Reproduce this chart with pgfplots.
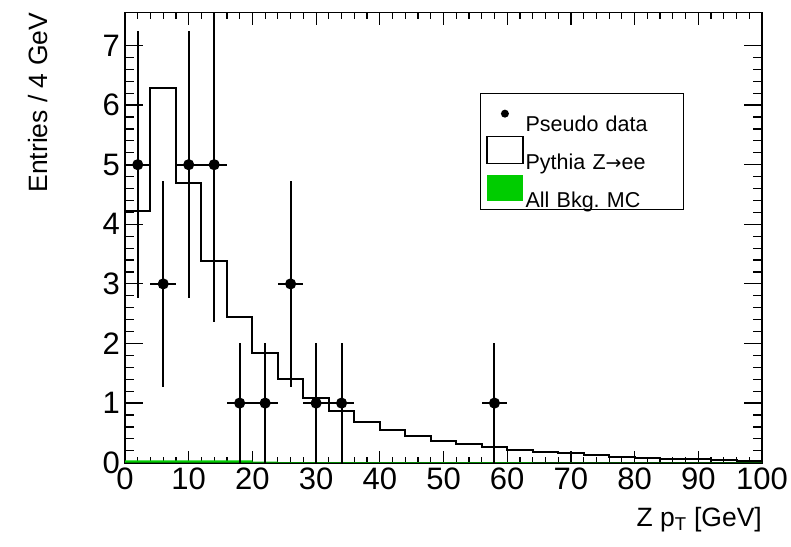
\documentclass[border=0pt]{standalone}
\usepackage{pgfplots}
\pgfplotsset{compat=1.18}
\usepackage{fontspec}
\setmainfont{Liberation Sans}
\newfontfamily\dejavu{DejaVu Sans}
\definecolor{rootgreen}{RGB}{0,204,0}
\pgfplotstableread{
x y ex ey
2 5 2 2.236
6 3 2 1.732
10 5 2 2.236
14 5 2 2.646
18 1 2 1
22 1 2 1
26 3 2 1.732
30 1 2 1
34 1 2 1
58 1 2 1
}\datatable
\begin{document}
\begin{tikzpicture}
\path[use as bounding box] (0,0) rectangle (791pt,546pt);
\begin{axis}[
  at={(125pt,83.3pt)}, anchor=south west,
  scale only axis, width=637pt, height=450pt,
  xmin=0, xmax=100, ymin=0, ymax=7.55,
  xtick={0,10,...,100}, minor x tick num=4,
  ytick={0,1,...,7}, minor y tick num=4,
  xtick pos=both, ytick pos=both,
  tick align=inside,
  major tick length=12pt, minor tick length=6pt,
  major y tick style={/pgfplots/major tick length=18pt},
  minor y tick style={/pgfplots/minor tick length=9pt},
  axis line style={line width=1.6pt},
  tick style={line width=1.2pt, black},
  /pgf/number format/assume math mode=true,
  ticklabel style={font=\fontsize{31}{36}\selectfont, inner sep=0pt},
  xticklabel style={anchor=north, yshift=-5pt},
  yticklabel style={anchor=east, xshift=-5pt},
  ylabel={Entries / 4 GeV},
  ylabel style={at={(axis description cs:-0.1224,1)}, anchor=base east, inner sep=0pt, font=\fontsize{26.5}{30}\selectfont},
  xlabel={Z p\textsubscript{T} [GeV]},
  xlabel style={at={(axis description cs:1,-0.142)}, anchor=base east, inner sep=0pt, font=\fontsize{26.5}{30}\selectfont},
  legend style={at={(rel axis cs:0.557,0.821)}, anchor=north west, draw=black, line width=0.8pt,
    font=\fontsize{21.5}{25}\selectfont, row sep=0pt, inner xsep=6pt, inner ysep=1pt,
    nodes={text width=150pt, align=left, inner ysep=1pt, text depth=0pt}},
  legend cell align=left,
  reverse legend,
]
\addplot[draw=none, fill=rootgreen, const plot mark left, forget plot] coordinates {
(0,0.04) (4,0.04) (8,0.04) (12,0.04) (16,0.04) (20,0.02) (24,0.008) (28,0.008) (32,0.008)
(36,0.008) (40,0.008) (44,0.008) (48,0.008) (52,0.008) (56,0.008) (60,0.008) (64,0.006)
(68,0.006) (72,0.006) (76,0.006) (80,0.006) (84,0.006) (88,0.006) (92,0.006) (96,0.006) (100,0.006)
} \closedcycle;
\addlegendimage{legend image code/.code={\path[draw=none,fill=none] (0pt,3pt) rectangle (36pt,29pt);\fill[rootgreen, draw=none] (0pt,-2pt) rectangle (36pt,24pt);}}
\addlegendentry{All Bkg.\ MC}
\addplot[black, line width=2pt, const plot mark left, mark=none,
  legend image code/.code={\path[draw=none,fill=none] (0pt,3pt) rectangle (36pt,29pt);\draw[black, line width=1.4pt, fill=white] (0pt,-2pt) rectangle (36pt,25pt);}]
coordinates {
(0,4.23) (4,6.29) (8,4.70) (12,3.39) (16,2.45) (20,1.84) (24,1.41) (28,1.09) (32,0.86)
(36,0.69) (40,0.55) (44,0.45) (48,0.37) (52,0.31) (56,0.26) (60,0.21) (64,0.18)
(68,0.16) (72,0.125) (76,0.10) (80,0.085) (84,0.067) (88,0.057) (92,0.045) (96,0.035) (100,0.035)
};
\addlegendentry{Pythia Z{\dejavu\fontsize{19}{22}\selectfont →}ee}
\addplot[black, only marks, mark=*, mark size=4.5pt, line width=2pt,
  legend image code/.code={\path[draw=none,fill=none] (0pt,3pt) rectangle (36pt,29pt);\fill[black, draw=none] (18pt,10pt) circle (4pt);},
  error bars/.cd, x dir=both, x explicit, y dir=both, y explicit,
  error mark=none, error bar style={line width=2pt, black}]
  table[x=x, y=y, x error=ex, y error=ey] {\datatable};
\addlegendentry{Pseudo data}
\end{axis}
\end{tikzpicture}
\end{document}
